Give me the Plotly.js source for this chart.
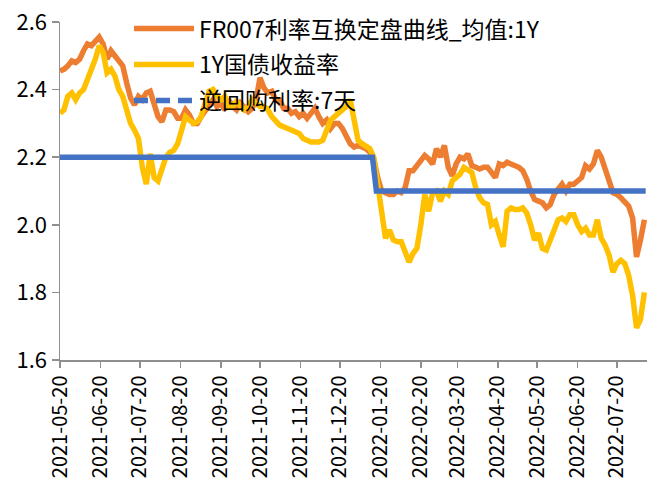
<!DOCTYPE html>
<html>
<head>
<meta charset="utf-8">
<script src="https://cdn.plot.ly/plotly-3.0.1.min.js"></script>
<style>html,body{margin:0;padding:0;background:#fff;}#chart{width:647px;height:488px;}</style>
</head>
<body>
<div id="chart"></div>
<script>
// Dates (every 3 calendar days)
const dates = [
"2021-05-20","2021-05-23","2021-05-26","2021-05-29",
"2021-06-01","2021-06-04","2021-06-07","2021-06-10","2021-06-13","2021-06-16","2021-06-19","2021-06-22","2021-06-25","2021-06-28",
"2021-07-01","2021-07-04","2021-07-07","2021-07-10","2021-07-13","2021-07-16","2021-07-19","2021-07-22","2021-07-25","2021-07-28","2021-07-31",
"2021-08-03","2021-08-06","2021-08-09","2021-08-12","2021-08-15","2021-08-18","2021-08-21","2021-08-24","2021-08-27","2021-08-30",
"2021-09-02","2021-09-05","2021-09-08","2021-09-11","2021-09-14","2021-09-17","2021-09-20","2021-09-23","2021-09-26","2021-09-29",
"2021-10-02","2021-10-05","2021-10-08","2021-10-11","2021-10-14","2021-10-17","2021-10-20","2021-10-23","2021-10-26","2021-10-29",
"2021-11-01","2021-11-04","2021-11-07","2021-11-10","2021-11-13","2021-11-16","2021-11-19","2021-11-22","2021-11-25","2021-11-28",
"2021-12-01","2021-12-04","2021-12-07","2021-12-10","2021-12-13","2021-12-16","2021-12-19","2021-12-22","2021-12-25","2021-12-28","2021-12-31",
"2022-01-03","2022-01-06","2022-01-09","2022-01-12","2022-01-15","2022-01-18","2022-01-21","2022-01-24","2022-01-27","2022-01-30",
"2022-02-02","2022-02-05","2022-02-08","2022-02-11","2022-02-14","2022-02-17","2022-02-20","2022-02-23","2022-02-26",
"2022-03-01","2022-03-04","2022-03-07","2022-03-10","2022-03-13","2022-03-16","2022-03-19","2022-03-22","2022-03-25","2022-03-28","2022-03-31",
"2022-04-03","2022-04-06","2022-04-09","2022-04-12","2022-04-15","2022-04-18","2022-04-21","2022-04-24","2022-04-27","2022-04-30",
"2022-05-03","2022-05-06","2022-05-09","2022-05-12","2022-05-15","2022-05-18","2022-05-21","2022-05-24","2022-05-27","2022-05-30",
"2022-06-02","2022-06-05","2022-06-08","2022-06-11","2022-06-14","2022-06-17","2022-06-20","2022-06-23","2022-06-26","2022-06-29",
"2022-07-02","2022-07-05","2022-07-08","2022-07-11","2022-07-14","2022-07-17","2022-07-20","2022-07-23","2022-07-26","2022-07-29",
"2022-08-01","2022-08-04","2022-08-07","2022-08-10"
];

// FR007 swap fixing, 1Y mean
const fr007 = [
2.455,2.46,2.47,2.485,
2.48,2.49,2.515,2.535,2.53,2.545,2.555,2.535,2.49,2.515,
2.50,2.49,2.47,2.42,2.375,2.355,2.38,2.37,2.39,2.395,2.35,
2.32,2.305,2.34,2.34,2.335,2.315,2.315,2.34,2.325,2.30,
2.30,2.32,2.335,2.35,2.37,2.35,2.36,2.34,2.37,2.35,
2.34,2.36,2.35,2.335,2.345,2.37,2.435,2.405,2.39,2.395,
2.37,2.37,2.345,2.345,2.33,2.335,2.32,2.33,2.315,2.33,
2.345,2.32,2.30,2.31,2.285,2.30,2.30,2.285,2.265,2.24,2.23,
2.235,2.23,2.225,2.215,2.195,2.14,2.10,2.095,2.09,2.09,
2.10,2.095,2.11,2.16,2.16,2.175,2.19,2.205,2.195,
2.18,2.225,2.20,2.235,2.17,2.145,2.18,2.20,2.195,2.21,2.175,
2.17,2.165,2.17,2.17,2.155,2.14,2.18,2.175,2.185,2.18,
2.175,2.17,2.16,2.135,2.10,2.075,2.07,2.065,2.05,2.06,
2.09,2.105,2.12,2.10,2.12,2.12,2.13,2.14,2.175,2.165,
2.18,2.22,2.20,2.17,2.13,2.095,2.09,2.08,2.07,2.055,
2.02,1.905,1.955,2.015
];

// 1Y government bond yield
const cgb1y = [
2.33,2.34,2.38,2.39,
2.37,2.39,2.40,2.43,2.455,2.49,2.53,2.51,2.45,2.46,
2.44,2.40,2.38,2.335,2.30,2.28,2.255,2.17,2.12,2.21,2.14,
2.13,2.16,2.20,2.215,2.22,2.24,2.28,2.32,2.31,2.30,
2.305,2.32,2.36,2.395,2.40,2.38,2.37,2.38,2.35,2.35,
2.365,2.35,2.34,2.35,2.37,2.36,2.35,2.35,2.34,2.32,
2.305,2.295,2.29,2.285,2.28,2.275,2.27,2.255,2.25,2.245,
2.245,2.245,2.25,2.28,2.31,2.32,2.33,2.335,2.35,2.37,2.30,
2.25,2.24,2.23,2.225,2.20,2.12,2.03,1.96,1.985,1.955,
1.95,1.95,1.92,1.89,1.915,1.93,2.00,2.09,2.04,
2.095,2.10,2.07,2.10,2.09,2.13,2.14,2.15,2.17,2.16,2.155,
2.11,2.08,2.065,2.06,2.00,2.01,1.97,1.935,2.04,2.05,
2.045,2.045,2.05,2.035,2.00,1.955,1.975,1.93,1.925,1.955,
1.99,2.015,2.02,2.01,2.03,2.03,2.00,1.98,1.99,1.97,
1.97,2.015,1.96,1.94,1.91,1.86,1.885,1.895,1.885,1.85,
1.79,1.695,1.72,1.80
];

// Reverse repo rate: 7 days
const repoDates = ["2021-05-20","2022-01-14","2022-01-17","2022-08-11"];
const repo7d = [2.2,2.2,2.1,2.1];

const seriesNames = ["FR007利率互换定盘曲线_均值:1Y","1Y国债收益率","逆回购利率:7天"];
const xTicks = ["2021-05-20","2021-06-20","2021-07-20","2021-08-20","2021-09-20","2021-10-20","2021-11-20","2021-12-20","2022-01-20","2022-02-20","2022-03-20","2022-04-20","2022-05-20","2022-06-20","2022-07-20"];
const yTicks = [1.6,1.8,2.0,2.2,2.4,2.6];

const FONT = '"Noto Sans CJK SC", "Noto Sans", sans-serif';

const traces = [
  {x: dates, y: fr007, name: seriesNames[0], type: 'scatter', mode: 'lines',
   line: {color: '#ED7D31', width: 5.5}, legendgroup: 'a'},
  {x: dates, y: cgb1y, name: seriesNames[1], type: 'scatter', mode: 'lines',
   line: {color: '#FFC000', width: 5.5}, legendgroup: 'b'},
  {x: repoDates, y: repo7d, name: seriesNames[2], type: 'scatter', mode: 'lines',
   line: {color: '#4472C4', width: 5.5}, showlegend: false, legendgroup: 'c'},
  {x: [null], y: [null], name: seriesNames[2], type: 'scatter', mode: 'lines',
   line: {color: '#4472C4', width: 5.5, dash: '14px,8px'}, legendgroup: 'c', hoverinfo: 'skip'}
];

const layout = {
  width: 647, height: 488,
  margin: {l: 60, r: 0, t: 22, b: 128, pad: 0},
  paper_bgcolor: '#ffffff', plot_bgcolor: '#ffffff',
  font: {family: FONT, size: 23, color: '#000000'},
  showlegend: true,
  legend: {
    x: 0.1176, xanchor: 'left', y: 1.044, yanchor: 'top',
    bgcolor: 'rgba(0,0,0,0)', borderwidth: 0,
    font: {family: FONT, size: 23, color: '#000000'},
    itemwidth: 60, tracegroupgap: 3, traceorder: 'grouped'
  },
  xaxis: {
    type: 'date', range: ['2021-05-20', '2022-08-12'],
    tickmode: 'array', tickvals: xTicks, ticktext: xTicks,
    tickangle: -90, ticks: 'outside', ticklen: 6, tickwidth: 1.5, tickcolor: '#8f8f8f',
    showline: true, linecolor: '#8f8f8f', linewidth: 1.5,
    showgrid: false, zeroline: false,
    tickfont: {family: FONT, size: 20, color: '#000000'}
  },
  yaxis: {
    range: [1.6, 2.6], tickmode: 'array', tickvals: yTicks,
    ticktext: yTicks.map(v => v.toFixed(1)),
    ticks: 'outside', ticklen: 7, tickwidth: 1.5, tickcolor: '#8f8f8f',
    showline: true, linecolor: '#8f8f8f', linewidth: 1.5,
    showgrid: false, zeroline: false,
    tickfont: {family: FONT, size: 22, color: '#000000'}
  }
};

Plotly.newPlot('chart', traces, layout, {displayModeBar: false, staticPlot: true});
</script>
</body>
</html>
